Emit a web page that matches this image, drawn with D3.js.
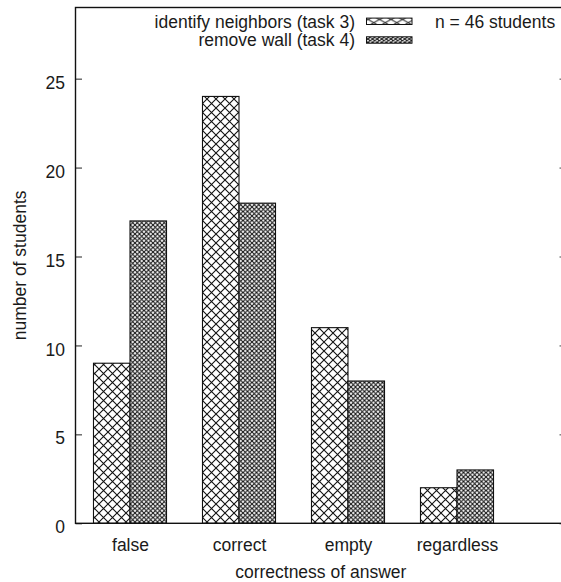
<!DOCTYPE html>
<html>
<head>
<meta charset="utf-8">
<script src="https://cdn.jsdelivr.net/npm/d3@7"></script>
<style>
  html, body { margin: 0; padding: 0; background: #fff; }
  svg { display: block; }
  text { font-family: "Liberation Sans", Arial, Helvetica, sans-serif; fill: #1a1a1a; }
</style>
</head>
<body>
<svg id="chart" width="561" height="582"></svg>
<script>
// ---- data ----
const categories = ["false", "correct", "empty", "regardless"];
const seriesNames = ["identify neighbors (task 3)", "remove wall (task 4)"];
const task3Values = [9, 24, 11, 2];
const task4Values = [17, 18, 8, 3];
const yTicks = [0, 5, 10, 15, 20, 25];
const xLabel = "correctness of answer";
const yLabel = "number of students";
const note = "n = 46 students";

(function () {
// ---- layout ----
const pLeft = 75.5, pRight = 566, pTop = 7.5, pBottom = 523.3;
const fs = 17.5;

const svg = d3.select("#chart");
const defs = svg.append("defs");

function crossPattern(id, w, h, sw) {
  const p = defs.append("pattern").attr("id", id)
    .attr("patternUnits", "userSpaceOnUse").attr("width", w).attr("height", h);
  p.append("rect").attr("width", w).attr("height", h).attr("fill", "#fff");
  p.append("path").attr("d", `M0,0L${w},${h}M0,${h}L${w},0`)
    .attr("stroke", "#111").attr("stroke-width", sw).attr("fill", "none");
}
crossPattern("patA", 9, 9, 1.1);
crossPattern("patB", 4.5, 4.5, 1.1);
crossPattern("patAleg", 11.5, 6.5, 1.0);
crossPattern("patBleg", 4.6, 3.25, 1.0);

const x = d3.scaleLinear().domain([-0.5, 4]).range([pLeft, pRight]);
const y = d3.scaleLinear().domain([0, 29]).range([pBottom, pTop]);
const bw = 0.335; // bar width in category units

const series = [
  { name: seriesNames[0], values: task3Values, fill: "url(#patA)", leg: "url(#patAleg)", off: -bw },
  { name: seriesNames[1], values: task4Values, fill: "url(#patB)", leg: "url(#patBleg)", off: 0 }
];

// bars
series.forEach(s => {
  svg.append("g").selectAll("rect").data(s.values).join("rect")
    .attr("x", (d, i) => x(i + s.off))
    .attr("width", (d, i) => x(i + s.off + bw) - x(i + s.off))
    .attr("y", d => y(d))
    .attr("height", d => y(0) - y(d))
    .attr("fill", s.fill)
    .attr("stroke", "#111")
    .attr("stroke-width", 1.1);
});

// y axis left (inward ticks)
const yAxisL = d3.axisLeft(y).tickValues(yTicks).tickSize(-6.5).tickPadding(10.5);
const gL = svg.append("g").attr("transform", `translate(${pLeft},0)`).call(yAxisL);
gL.select(".domain").remove();
gL.selectAll("line").attr("stroke", "#222").attr("stroke-width", 1);
gL.selectAll("text").attr("font-size", fs).attr("dy", "9.6px").attr("font-family", null);

// y axis right (inward ticks)
const yAxisR = d3.axisRight(y).tickValues(yTicks).tickSize(-6.5).tickFormat("");
const gR = svg.append("g").attr("transform", `translate(${pRight},0)`).call(yAxisR);
gR.select(".domain").remove();
gR.selectAll("line").attr("stroke", "#444").attr("stroke-width", 1);

// border
svg.append("rect").attr("x", pLeft).attr("y", pTop)
  .attr("width", pRight - pLeft).attr("height", pBottom - pTop)
  .attr("fill", "none").attr("stroke", "#111").attr("stroke-width", 1.4);

// x category labels
const xAxis = d3.axisBottom(x).tickValues(d3.range(categories.length))
  .tickFormat(i => categories[i]).tickSize(0).tickPadding(0);
const gX = svg.append("g").attr("transform", `translate(0,${pBottom})`).call(xAxis);
gX.select(".domain").remove();
gX.selectAll("text").attr("font-size", fs).attr("dy", null).attr("y", 551 - pBottom).attr("font-family", null);

// axis titles
svg.append("text").attr("x", (pLeft + pRight) / 2).attr("y", 577.5)
  .attr("text-anchor", "middle").attr("font-size", fs).text(xLabel);
svg.append("text").attr("transform", `translate(25.5,${(pTop + pBottom) / 2}) rotate(-90)`)
  .attr("text-anchor", "middle").attr("font-size", fs).text(yLabel);

// legend
const legRows = [21.3, 40];
series.forEach((s, k) => {
  svg.append("text").attr("x", 355).attr("y", legRows[k] + 6.3)
    .attr("text-anchor", "end").attr("font-size", fs).text(s.name);
  svg.append("rect").attr("x", 366.5).attr("y", legRows[k] - 3.2)
    .attr("width", 45.5).attr("height", 6.4)
    .attr("fill", s.leg).attr("stroke", "#111").attr("stroke-width", 1);
});
svg.append("text").attr("x", 435).attr("y", legRows[0] + 6.3)
  .attr("font-size", fs).text(note);
})();
</script>
</body>
</html>
